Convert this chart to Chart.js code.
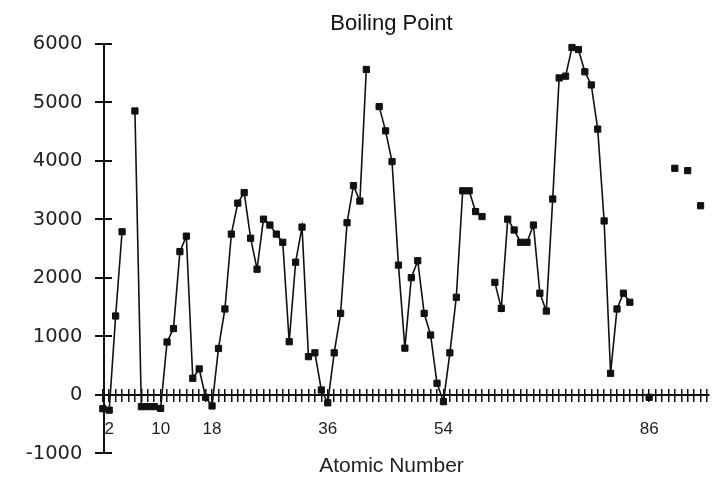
<!DOCTYPE html>
<html>
<head>
<meta charset="utf-8">
<script src="https://cdn.jsdelivr.net/npm/chart.js"></script>
<style>
  html, body { margin: 0; padding: 0; background: #ffffff; }
  #wrap { width: 725px; height: 478px; position: relative; }
</style>
</head>
<body>
<div id="wrap"><canvas id="chart"></canvas></div>
<script>
// ---- data ----
const atomicNumbers = [
  1, 2, 3, 4, 5, 6, 7, 8, 9, 10,
  11, 12, 13, 14, 15, 16, 17, 18, 19, 20,
  21, 22, 23, 24, 25, 26, 27, 28, 29, 30,
  31, 32, 33, 34, 35, 36, 37, 38, 39, 40,
  41, 42, 43, 44, 45, 46, 47, 48, 49, 50,
  51, 52, 53, 54, 55, 56, 57, 58, 59, 60,
  61, 62, 63, 64, 65, 66, 67, 68, 69, 70,
  71, 72, 73, 74, 75, 76, 77, 78, 79, 80,
  81, 82, 83, 84, 85, 86, 87, 88, 89, 90,
  91, 92, 93, 94
];
const boilingPoints = [
  -235, -260, 1350, 2790, null, 4855, -200, -200, -200, -230,
  905, 1135, 2450, 2715, 285, 445, -40, -188, 795, 1470,
  2750, 3280, 3460, 2680, 2150, 3005, 2905, 2750, 2610, 910,
  2270, 2870, 655, 720, 85, -135, 720, 1395, 2945, 3578,
  3315, 5565, null, 4930, 4515, 3990, 2220, 800, 2005, 2295,
  1395, 1025, 200, -115, 720, 1670, 3490, 3490, 3135, 3050,
  null, 1925, 1480, 3005, 2820, 2610, 2610, 2905, 1740, 1435,
  3350, 5420, 5450, 5940, 5905, 5525, 5300, 4545, 2975, 370,
  1470, 1740, 1585, null, null, -40, null, null, null, 3875,
  null, 3835, null, 3235
];
const labeledTicks = [2, 10, 18, 36, 54, 86];
const yTickValues = [-1000, 0, 1000, 2000, 3000, 4000, 5000, 6000];

const titleText = 'Boiling Point';
const xTitleText = 'Atomic Number';

// ---- axis ranges ----
const X_MIN = 0.1, X_MAX = 95.35;
const Y_MIN = -1000, Y_MAX = 6000;
const Y_AXIS_AT = 1.16;       // x value where the vertical axis crosses
const Y_LABEL_AT = -2.17;     // x value where the y tick labels end (right-aligned)
const PAD_LEFT = 58;
const AREA_LEFT = 97;

const points = atomicNumbers.map((n, i) => ({ x: n, y: boilingPoints[i] }));

function integerTicks(scale) {
  const t = [];
  for (let v = Math.ceil(scale.min); v <= Math.floor(scale.max); v++) t.push({ value: v });
  scale.ticks = t;
}
function yTicks(scale) {
  scale.ticks = yTickValues.map(v => ({ value: v }));
}

const INK = '#111111';
const xBase = { type: 'linear', axis: 'x', min: X_MIN, max: X_MAX, afterBuildTicks: integerTicks };
const yBase = { type: 'linear', axis: 'y', min: Y_MIN, max: Y_MAX, afterBuildTicks: yTicks };

new Chart(document.getElementById('chart'), {
  type: 'line',
  data: {
    datasets: [{
      data: points,
      borderColor: INK,
      borderWidth: 1.6,
      backgroundColor: INK,
      pointStyle: 'rect',
      pointRadius: 4.4,
      pointBorderWidth: 1,
      pointBackgroundColor: INK,
      pointBorderColor: INK,
      spanGaps: false,
      tension: 0,
      clip: false
    }]
  },
  options: {
    responsive: true,
    maintainAspectRatio: false,
    animation: false,
    events: [],
    layout: { padding: { left: PAD_LEFT, right: 0, top: 0, bottom: 0 } },
    plugins: {
      legend: { display: false },
      tooltip: { enabled: false },
      title: {
        display: true,
        text: titleText,
        color: INK,
        font: { family: 'Liberation Sans', size: 22, weight: 'normal', lineHeight: 1.2 },
        padding: { top: 11.2, bottom: 6.4 }
      },
      subtitle: {
        display: true,
        position: 'bottom',
        text: xTitleText,
        color: '#222222',
        font: { family: 'Liberation Sans', size: 21, weight: 'normal', lineHeight: 1.05 },
        padding: { top: 1.5, bottom: 1 }
      }
    },
    scales: {
      x: Object.assign({}, xBase, {
        position: { y: 0 },
        grid: { display: true, drawOnChartArea: false, drawTicks: true, tickLength: 6, color: INK, lineWidth: 1.5 },
        border: { display: true, color: INK, width: 2 },
        ticks: {
          autoSkip: false, maxRotation: 0, minRotation: 0, padding: 18,
          color: '#222222',
          font: { family: 'Liberation Sans', size: 17 },
          callback: (v) => labeledTicks.includes(v) ? String(v) : ''
        }
      }),
      x2: Object.assign({}, xBase, {
        position: { y: 0 },
        grid: { display: true, drawOnChartArea: false, drawTicks: true, tickLength: -6, color: INK, lineWidth: 1.5 },
        border: { display: false },
        ticks: { display: false, autoSkip: false }
      }),
      // left spacer axis that reserves room for the labels
      y: Object.assign({}, yBase, {
        position: 'left',
        afterFit: (s) => { s.width = AREA_LEFT - PAD_LEFT; },
        grid: { display: false, drawTicks: false },
        border: { display: false },
        ticks: { display: false }
      }),
      // tick labels
      yLab: Object.assign({}, yBase, {
        position: { x: Y_LABEL_AT },
        grid: { display: false, drawTicks: false },
        border: { display: false },
        ticks: {
          padding: 0,
          color: '#222222',
          font: { family: 'DejaVu Sans', size: 19.5 },
          callback: (v) => String(v)
        }
      }),
      // axis line + outward tick marks
      y2: Object.assign({}, yBase, {
        position: { x: Y_AXIS_AT },
        grid: { display: true, drawOnChartArea: false, drawTicks: true, tickLength: 8, color: INK, lineWidth: 2 },
        border: { display: true, color: INK, width: 2 },
        ticks: { display: false }
      }),
      // inward tick marks
      y3: Object.assign({}, yBase, {
        position: { x: Y_AXIS_AT },
        grid: { display: true, drawOnChartArea: false, drawTicks: true, tickLength: -8, color: INK, lineWidth: 2 },
        border: { display: false },
        ticks: { display: false }
      })
    }
  }
});
</script>
</body>
</html>
